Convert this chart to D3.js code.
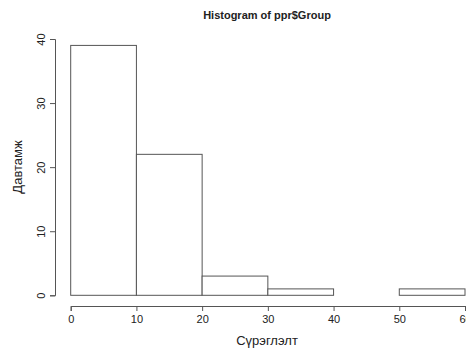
<!DOCTYPE html>
<html><head><meta charset="utf-8">
<script src="https://cdn.jsdelivr.net/npm/d3@7"></script>
<style>body{margin:0;background:#fff}svg{display:block;font-family:"Liberation Sans",Arial,sans-serif}</style>
</head><body>
<svg id="c" width="466" height="349"></svg>
<script>
const binStarts = [0, 10, 20, 30, 40, 50];
const binWidth = 10;
const counts = [39, 22, 3, 1, 0, 1];
const xTicks = [0, 10, 20, 30, 40, 50, 60];
const yTicks = [0, 10, 20, 30, 40];
const title = "Histogram of ppr$Group";
const xLabel = "Сүрэглэлт";
const yLabel = "Давтамж";

const svg = d3.select("#c");
const x = d3.scaleLinear().domain([0, 60]).range([70.7, 465]);
const y = d3.scaleLinear().domain([0, 40]).range([295.3, 39]);
const stroke = "#555";

svg.append("g").selectAll("rect").data(counts).join("rect")
  .attr("x", (d,i) => x(binStarts[i]))
  .attr("width", (d,i) => x(binStarts[i]+binWidth) - x(binStarts[i]))
  .attr("y", d => y(d))
  .attr("height", d => y(0) - y(d))
  .attr("fill", "#fff").attr("stroke", stroke).attr("stroke-width", 1);

// x axis
const xa = svg.append("g").attr("transform", "translate(0,306)")
  .call(d3.axisBottom(x).tickValues(xTicks).tickSize(5).tickPadding(4).tickFormat(d3.format("d")));
// y axis
const ya = svg.append("g").attr("transform", "translate(55,0)")
  .call(d3.axisLeft(y).tickValues(yTicks).tickSize(5).tickPadding(4).tickFormat(d3.format("d")));
[xa, ya].forEach(a => {
  a.select(".domain").attr("stroke", stroke);
  a.selectAll(".tick line").attr("stroke", stroke);
  a.selectAll("text").attr("fill", "#222").style("font-size", "11px").style("font-family", "Liberation Sans, Arial, sans-serif");
});
ya.selectAll(".tick text")
  .attr("x", null).attr("dy", null)
  .attr("text-anchor", "middle")
  .attr("transform", "translate(-14,0) rotate(-90)")
  .attr("dy", "0.35em");

svg.append("text").attr("x", 267).attr("y", 19).attr("text-anchor", "middle")
  .attr("font-weight", "bold").attr("font-size", "11px").attr("fill", "#222").text(title);
svg.append("text").attr("x", 267).attr("y", 345).attr("text-anchor", "middle")
  .attr("font-size", "13px").attr("fill", "#222").text(xLabel);
svg.append("text").attr("transform", "translate(22,167) rotate(-90)").attr("text-anchor", "middle")
  .attr("font-size", "13px").attr("fill", "#222").text(yLabel);
</script>
</body></html>
